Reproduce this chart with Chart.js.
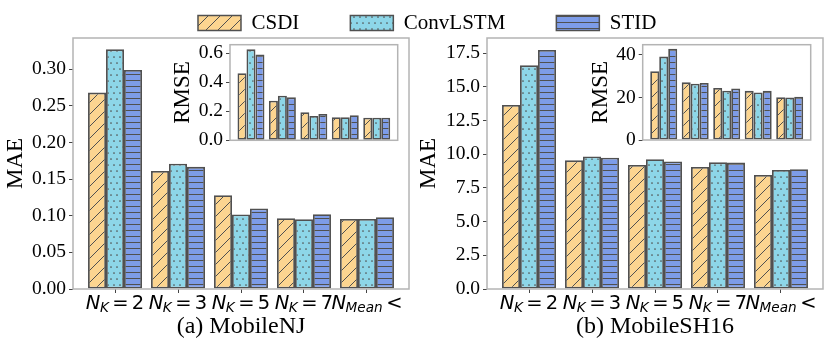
<!DOCTYPE html>
<html><head><meta charset="utf-8">
<script src="https://cdn.jsdelivr.net/npm/chart.js@4/dist/chart.umd.min.js"></script>
<style>
html,body{margin:0;padding:0;background:#fff;}
#wrap{position:relative;width:830px;height:346px;overflow:hidden;background:#fff;}
#wrap canvas{position:absolute;}
</style></head><body>
<div id="wrap">
<canvas id="mainA" width="415" height="346" style="left:0;top:0;width:415px;height:346px"></canvas>
<canvas id="mainB" width="415" height="346" style="left:415px;top:0;width:415px;height:346px"></canvas>
<canvas id="insetA" width="245" height="125" style="left:160px;top:30px;width:245px;height:125px"></canvas>
<canvas id="insetB" width="250" height="125" style="left:575px;top:30px;width:250px;height:125px"></canvas>
<canvas id="legend" width="830" height="220" style="left:0;top:-40px;width:830px;height:220px"></canvas>
</div>
<script>
// ---- data ----
const series = ['CSDI', 'ConvLSTM', 'STID'];
const catSymbol = ['N', 'N', 'N', 'N', 'N'];
const catSubscript = ['K', 'K', 'K', 'K', 'Mean'];
const catSuffix = ['= 2', '= 3', '= 5', '= 7', '<'];

const njMaeCSDI = [0.268, 0.161, 0.128, 0.0966, 0.0956];
const njMaeConvLSTM = [0.327, 0.171, 0.1016, 0.0952, 0.0956];
const njMaeSTID = [0.2988, 0.1667, 0.110, 0.102, 0.098];

const njRmseCSDI = [0.462, 0.273, 0.194, 0.159, 0.155];
const njRmseConvLSTM = [0.627, 0.307, 0.168, 0.159, 0.155];
const njRmseSTID = [0.591, 0.296, 0.182, 0.173, 0.155];

const shMaeCSDI = [13.66, 9.55, 9.2, 9.06, 8.46];
const shMaeConvLSTM = [16.6, 9.83, 9.63, 9.4, 8.83];
const shMaeSTID = [17.74, 9.75, 9.46, 9.38, 8.89];

const shRmseCSDI = [32.3, 27.1, 24.5, 23.1, 20.15];
const shRmseConvLSTM = [39.2, 26.5, 23.2, 22.3, 20.0];
const shRmseSTID = [42.9, 26.8, 24.2, 23.1, 20.3];

const njMaeTicks = [0.00, 0.05, 0.10, 0.15, 0.20, 0.25, 0.30];
const njRmseTicks = [0.0, 0.2, 0.4, 0.6];
const shMaeTicks = [0.0, 2.5, 5.0, 7.5, 10.0, 12.5, 15.0, 17.5];
const shRmseTicks = [0, 10, 20, 30, 40];

// ---- styles ----
const HATCH = '#505050';
const EDGE = '#505050';
const FRAME = '#b4b4b4';
const SERIF = '"Liberation Serif", "Times New Roman", serif';

function mkTile(w, h, bg, draw) {
  const c = document.createElement('canvas'); c.width = w; c.height = h;
  const x = c.getContext('2d'); x.fillStyle = bg; x.fillRect(0, 0, w, h);
  draw(x); return x.createPattern(c, 'repeat');
}
function diagPattern(bg) {
  return mkTile(12, 12, bg, x => {
    x.strokeStyle = HATCH; x.lineWidth = 1;
    for (const k of [-12, 0, 12]) { x.beginPath(); x.moveTo(k, 12); x.lineTo(k + 12, 0); x.stroke(); }
  });
}
function dotPattern(bg) {
  return mkTile(12, 12, bg, x => {
    x.fillStyle = HATCH;
    const pts = [[3, 3], [9, 3], [0, 9], [6, 9], [12, 9]];
    for (const [a, b] of pts) { x.beginPath(); x.arc(a, b, 0.85, 0, Math.PI * 2); x.fill(); }
  });
}
function hlinePattern(bg) {
  return mkTile(6, 6, bg, x => { x.fillStyle = HATCH; x.fillRect(0, 2, 6, 1); });
}
const fills = [diagPattern('#fcd590'), dotPattern('#8dd6e8'), hlinePattern('#7d9ce8')];

// ---- plugins ----
const framePlugin = {
  id: 'frame',
  beforeDatasetsDraw(chart, a, o) {
    if (!o.bg) return;
    const {left, top, width, height} = chart.chartArea;
    chart.ctx.save(); chart.ctx.fillStyle = '#fff'; chart.ctx.fillRect(left, top, width, height); chart.ctx.restore();
  },
  afterDatasetsDraw(chart, a, o) {
    if (!o.show) return;
    const {left, top, width, height} = chart.chartArea;
    const c = chart.ctx; c.save(); c.strokeStyle = FRAME; c.lineWidth = 1.5;
    c.strokeRect(left, top, width, height); c.restore();
  }
};
const mathLabelPlugin = {
  id: 'mathLabels',
  afterDraw(chart, a, o) {
    if (!o.show) return;
    const c = chart.ctx, xs = chart.scales.x;
    const base = chart.chartArea.bottom + o.dy;
    const fs = 19.5, ss = 13.6;
    const fMain = `italic ${fs}px "DejaVu Sans"`, fSub = `italic ${ss}px "DejaVu Sans"`, fUp = `${fs}px "DejaVu Sans"`;
    for (let i = 0; i < catSymbol.length; i++) {
      c.save();
      c.fillStyle = '#000'; c.textBaseline = 'alphabetic'; c.textAlign = 'left';
      try { c.wordSpacing = '-3px'; } catch (e) {}
      c.font = fMain; const w1 = c.measureText(catSymbol[i]).width;
      c.font = fSub; const w2 = c.measureText(catSubscript[i]).width;
      c.font = fUp; const w3 = c.measureText(catSuffix[i]).width;
      const gap = 3;
      const total = w1 + w2 + gap + w3;
      let x = xs.getPixelForValue(i) - total / 2;
      c.font = fMain; c.fillText(catSymbol[i], x, base); x += w1;
      c.font = fSub; c.fillText(catSubscript[i], x - 0.5, base + 3); x += w2 + gap;
      c.font = fUp; c.fillText(catSuffix[i], x, base);
      c.restore();
    }
  }
};
Chart.register(framePlugin, mathLabelPlugin);

function makeDatasets(arrs) {
  return arrs.map((vals, s) => ({
    label: series[s],
    data: vals.map((v, i) => ({x: i, y: v})),
    backgroundColor: fills[s],
    borderColor: EDGE,
    borderWidth: 1.8,
    borderSkipped: false,
    categoryPercentage: 0.857,
    barPercentage: 1.0
  }));
}

function makePanel(id, arrs, cfg) {
  return new Chart(document.getElementById(id), {
    type: 'bar',
    data: {datasets: makeDatasets(arrs)},
    options: {
      responsive: false, animation: false, devicePixelRatio: 1,
      layout: {padding: cfg.pad},
      plugins: {
        legend: {display: false}, tooltip: {enabled: false},
        frame: {show: true, bg: cfg.inset},
        mathLabels: {show: !cfg.inset, dy: 20}
      },
      scales: {
        x: {
          type: 'linear', min: -0.667, max: 4.667, offset: false,
          afterBuildTicks: ax => { ax.ticks = catSymbol.map((c, i) => ({value: i})); },
          afterFit: ax => { ax.height = cfg.xH; },
          ticks: {display: false},
          grid: {display: !cfg.inset, offset: false, drawOnChartArea: false, drawTicks: true, tickLength: 4, color: '#444', lineWidth: 1},
          border: {display: false},
          title: cfg.caption ? {display: true, text: cfg.caption, color: '#000',
            font: {family: SERIF, size: 24}, padding: {top: 0, bottom: 5}} : {display: false}
        },
        y: {
          type: 'linear', min: 0, max: cfg.yMax,
          afterBuildTicks: ax => { ax.ticks = cfg.ticks.map(v => ({value: v})); },
          afterFit: ax => { ax.width = cfg.yW; },
          ticks: {callback: v => Number(v).toFixed(cfg.dec), color: '#000', padding: 3,
            font: {family: SERIF, size: 19.5}},
          grid: {drawOnChartArea: false, drawTicks: true, tickLength: 4, color: '#444', lineWidth: 1},
          border: {display: false},
          title: {display: true, text: cfg.yTitle, color: '#000', font: {family: SERIF, size: 23},
            padding: {top: cfg.tPad, bottom: 0}}
        }
      }
    }
  });
}

makePanel('mainA', [njMaeCSDI, njMaeConvLSTM, njMaeSTID],
  {pad: {left: 0, right: 6, top: 38, bottom: 0}, xH: 57, yW: 73, yMax: 0.3425, ticks: njMaeTicks, dec: 2,
   yTitle: 'MAE', tPad: 1.7, caption: '(a) MobileNJ', inset: false});
makePanel('mainB', [shMaeCSDI, shMaeConvLSTM, shMaeSTID],
  {pad: {left: 0, right: 7, top: 38, bottom: 0}, xH: 57, yW: 72, yMax: 18.63, ticks: shMaeTicks, dec: 1,
   yTitle: 'MAE', tPad: 0.4, caption: '(b) MobileSH16', inset: false});
makePanel('insetA', [njRmseCSDI, njRmseConvLSTM, njRmseSTID],
  {pad: {left: 0, right: 7.3, top: 14, bottom: 14.3}, xH: 0, yW: 70, yMax: 0.659, ticks: njRmseTicks, dec: 1,
   yTitle: 'RMSE', tPad: 8.7, caption: null, inset: true});
makePanel('insetB', [shRmseCSDI, shRmseConvLSTM, shRmseSTID],
  {pad: {left: 0, right: 14.3, top: 14, bottom: 15}, xH: 0, yW: 67.7, yMax: 44.8, ticks: shRmseTicks, dec: 0,
   yTitle: 'RMSE', tPad: 12.5, caption: null, inset: true});

// legend-only chart
new Chart(document.getElementById('legend'), {
  type: 'bar',
  data: {labels: ['a'], datasets: series.map((s, i) => ({label: s, data: [null], backgroundColor: fills[i], borderColor: EDGE, borderWidth: 1.5}))},
  options: {
    responsive: false, animation: false, devicePixelRatio: 1,
    layout: {padding: {left: 24.5, top: 1.5}},
    plugins: {
      frame: {show: false}, mathLabels: {show: false}, tooltip: {enabled: false},
      legend: {display: true, position: 'top', align: 'center',
        labels: {boxWidth: 43, boxHeight: 15, padding: 51, color: '#000', font: {family: SERIF, size: 21}}}
    },
    scales: {x: {display: false}, y: {display: false}}
  }
});
</script>
</body></html>
